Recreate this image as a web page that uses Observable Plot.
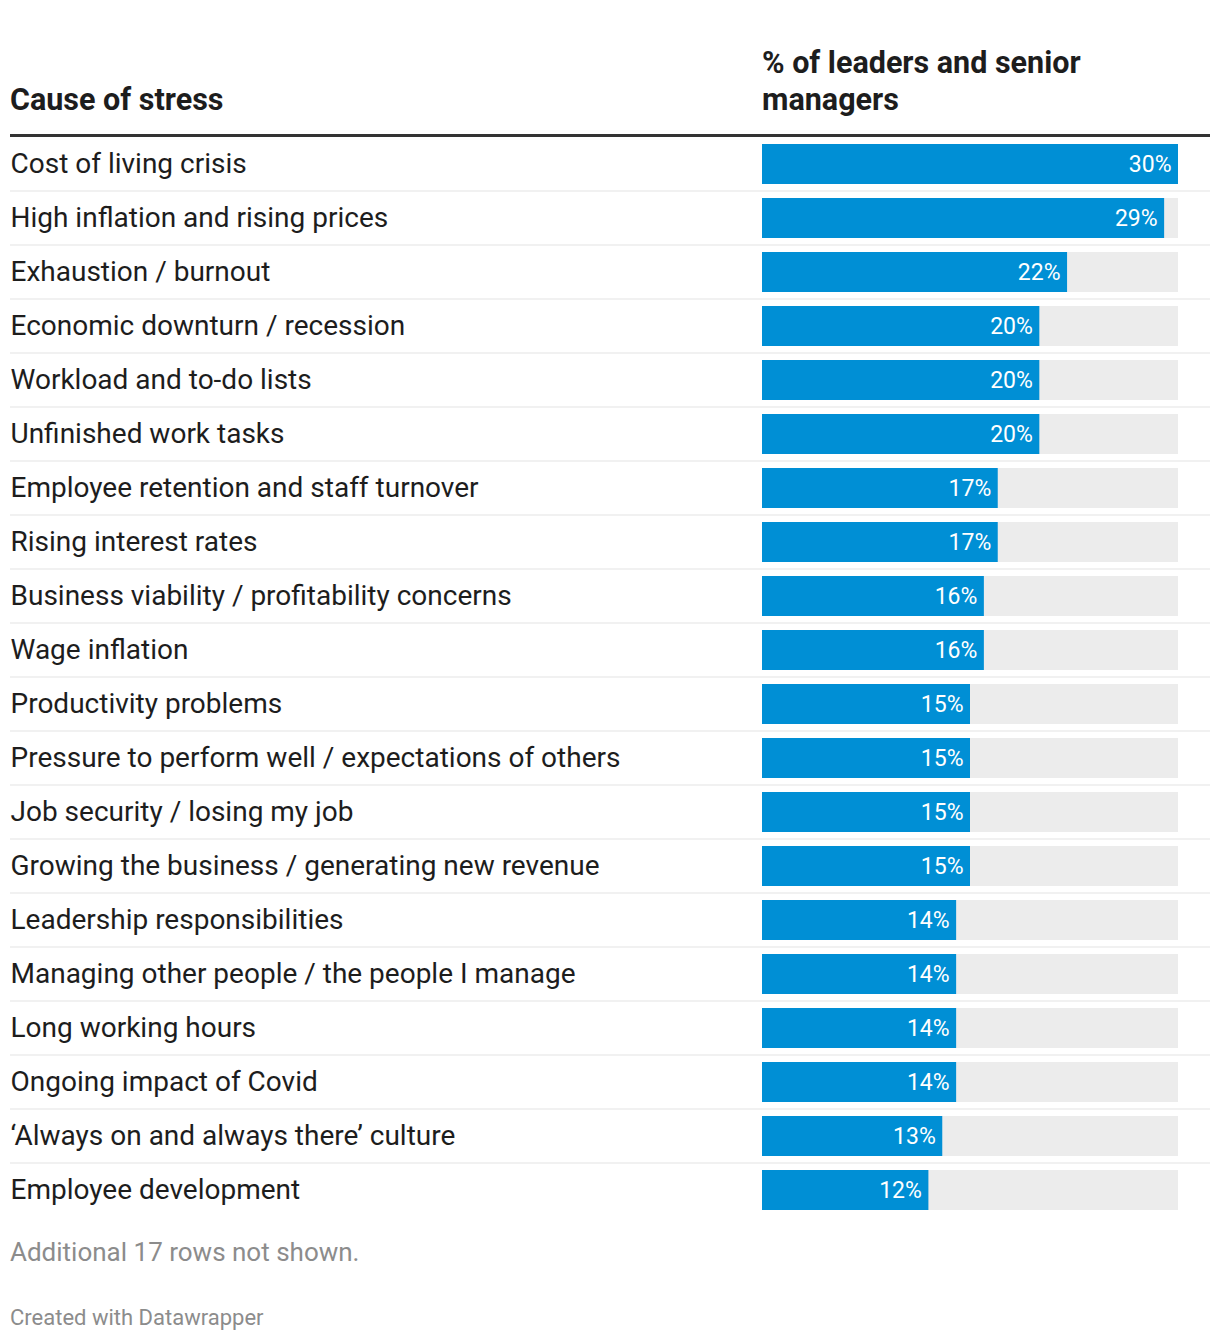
<!DOCTYPE html>
<html>
<head>
<meta charset="utf-8">
<script src="https://cdn.jsdelivr.net/npm/d3@7"></script>
<script src="https://cdn.jsdelivr.net/npm/@observablehq/plot@0.6"></script>
<style>
  html, body { margin: 0; padding: 0; background: #fff; }
  body { width: 1220px; font-family: Roboto, "Noto Sans", sans-serif; color: #1d1d1d; }
  #wrap { padding: 44px 10px 0 10px; }
  .head { display: flex; align-items: flex-end; border-bottom: 3px solid #333; padding-bottom: 16px; font-weight: 700; font-size: 30.5px; line-height: 37px; color: #1d1d1d; }
  .head .c1 { width: 752px; }
  .head .c2 { width: 440px; }
  #chart svg { display: block; }
  .note { margin: 20px 0 0 10px; font-size: 26px; color: #8c8c8c; line-height: 30px; }
  .credit { margin: 38px 0 0 10px; font-size: 22px; color: #8c8c8c; line-height: 26px; }
</style>
</head>
<body>
<div id="wrap">
  <div class="head">
    <div class="c1">Cause of stress</div>
    <div class="c2">% of leaders and senior<br>managers</div>
  </div>
</div>
<div id="chart"></div>
<div class="note">Additional 17 rows not shown.</div>
<div class="credit">Created with Datawrapper</div>
<script>
const causes = [
  "Cost of living crisis",
  "High inflation and rising prices",
  "Exhaustion / burnout",
  "Economic downturn / recession",
  "Workload and to-do lists",
  "Unfinished work tasks",
  "Employee retention and staff turnover",
  "Rising interest rates",
  "Business viability / profitability concerns",
  "Wage inflation",
  "Productivity problems",
  "Pressure to perform well / expectations of others",
  "Job security / losing my job",
  "Growing the business / generating new revenue",
  "Leadership responsibilities",
  "Managing other people / the people I manage",
  "Long working hours",
  "Ongoing impact of Covid",
  "\u2018Always on and always there\u2019 culture",
  "Employee development"
];
const shares = [30, 29, 22, 20, 20, 20, 17, 17, 16, 16, 15, 15, 15, 15, 14, 14, 14, 14, 13, 12];

const data = causes.map((c, i) => ({cause: c, value: shares[i]}));
const maxV = d3.max(shares);
const rowH = 54;

const chart = Plot.plot({
  width: 1220,
  height: rowH * causes.length,
  marginTop: 0,
  marginBottom: 0,
  marginLeft: 10,
  marginRight: 10,
  style: {fontFamily: "Roboto, 'Noto Sans', sans-serif", background: "#fff"},
  x: {domain: [0, maxV], range: [762, 1178], axis: null},
  y: {domain: causes, padding: 0, axis: null},
  marks: [
    Plot.ruleY(causes.slice(0, -1), {y: d => d, dy: rowH / 2 - 0.5, stroke: "#ececec", strokeWidth: 1.3}),
    Plot.barX(data, {y: "cause", x1: 0, x2: () => maxV, fill: "#ececec", insetTop: 7, insetBottom: 7}),
    Plot.barX(data, {y: "cause", x1: 0, x2: "value", fill: "#008fd5", insetTop: 7, insetBottom: 7}),
    Plot.text(data, {y: "cause", x: "value", text: d => d.value + "%", textAnchor: "end", dx: -7, fill: "#fff", fontSize: 23}),
    Plot.text(data, {y: "cause", text: "cause", frameAnchor: "left", textAnchor: "start", fill: "#1d1d1d", fontSize: 28})
  ]
});
document.getElementById("chart").appendChild(chart);
</script>
</body>
</html>
